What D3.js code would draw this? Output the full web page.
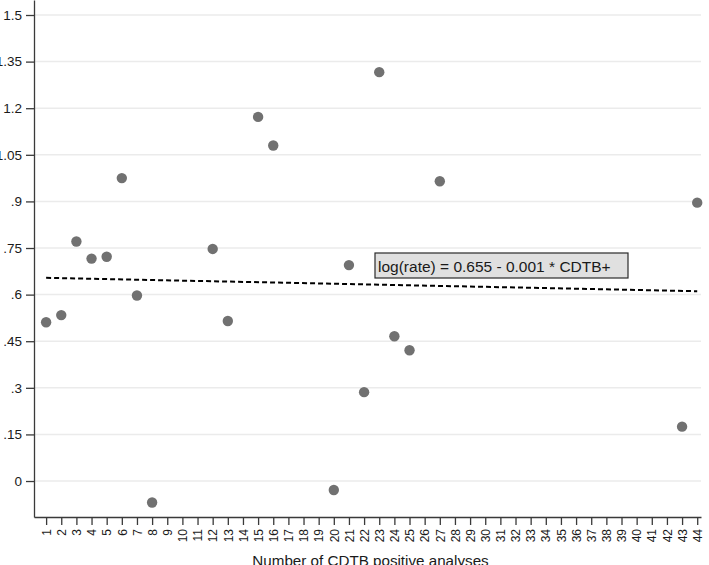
<!DOCTYPE html>
<html>
<head>
<meta charset="utf-8">
<title>log(rate) by CDTB+</title>
<style>
    body { margin: 0; background: #fff; }
    svg text { font-family: "Liberation Sans", Arial, sans-serif; fill: #1a1a1a; }
    .axis .domain { stroke: #3a3a3a; stroke-width: 1.3; }
    .axis .tick line { stroke: #3a3a3a; stroke-width: 1.3; }
</style>
</head>
<body>
<div id="chart"></div>
<script src="https://d3js.org/d3.v7.min.js"></script>
<script>
    // number of CDTB positive analyses (x) and observed log(rate) (y)
    var cdtb = [1, 2, 3, 4, 5, 6, 7, 8, 12, 13, 15, 16, 20, 21, 22, 23, 24, 25, 27, 43, 44];
    var logRate = [0.511, 0.534, 0.771, 0.716, 0.722, 0.975, 0.597, -0.069, 0.747, 0.515,
                   1.172, 1.080, -0.029, 0.695, 0.286, 1.316, 0.466, 0.421, 0.965, 0.175, 0.896];

    // fitted line
    var fitIntercept = 0.655;
    var fitSlope = -0.001;
    var fitLabel = 'log(rate) = 0.655 - 0.001 * CDTB+';

    var yTicks = [0, 0.15, 0.3, 0.45, 0.6, 0.75, 0.9, 1.05, 1.2, 1.35, 1.5];
    var yTickLabels = ['0', '.15', '.3', '.45', '.6', '.75', '.9', '1.05', '1.2', '1.35', '1.5'];
    var xTicks = d3.range(1, 45);
    var xTitle = 'Number of CDTB positive analyses';

    var width = 709;
    var height = 565;
    var plotLeft = 34, plotRight = 701, plotTop = 0, plotBottom = 517;

    var svg = d3.select('#chart')
        .append('svg')
        .attr('width', width)
        .attr('height', height);

    var x = d3.scaleLinear().domain([0.2, 44.25]).range([plotLeft, plotRight]);
    var y = d3.scaleLinear().domain([-0.1158, 1.5483]).range([plotBottom, plotTop]);

    // grid lines
    svg.append('g')
        .selectAll('line')
        .data(yTicks)
        .enter()
        .append('line')
        .attr('x1', plotLeft)
        .attr('x2', plotRight)
        .attr('y1', function(d) { return y(d); })
        .attr('y2', function(d) { return y(d); })
        .attr('stroke', '#ebebeb')
        .attr('stroke-width', 1.5);

    // y axis
    var yAxis = svg.append('g')
        .attr('class', 'axis')
        .attr('transform', 'translate(' + plotLeft + ',0)')
        .call(d3.axisLeft(y)
            .tickValues(yTicks)
            .tickFormat(function(d, i) { return yTickLabels[i]; })
            .tickSize(8)
            .tickSizeOuter(0)
            .tickPadding(4));
    yAxis.selectAll('text')
        .style('font-size', '13.5px');

    // x axis
    var xAxis = svg.append('g')
        .attr('class', 'axis')
        .attr('transform', 'translate(0,' + plotBottom + ')')
        .call(d3.axisBottom(x)
            .tickValues(xTicks)
            .tickFormat(d3.format('d'))
            .tickSize(8)
            .tickSizeOuter(0));
    xAxis.selectAll('text')
        .style('font-size', '12px')
        .attr('text-anchor', 'end')
        .attr('dy', '0.35em')
        .attr('y', 0)
        .attr('transform', 'translate(0,12) rotate(-90)');

    // x title
    svg.append('text')
        .attr('x', (plotLeft + plotRight) / 2 + 3)
        .attr('y', 566)
        .attr('text-anchor', 'middle')
        .style('font-size', '15.2px')
        .text(xTitle);

    // points
    svg.append('g')
        .selectAll('circle')
        .data(cdtb)
        .enter()
        .append('circle')
        .attr('cx', function(d) { return x(d); })
        .attr('cy', function(d, i) { return y(logRate[i]); })
        .attr('r', 5.2)
        .attr('fill', '#717171');

    // fitted line
    var xExt = d3.extent(cdtb);
    svg.append('line')
        .attr('x1', x(xExt[0]))
        .attr('x2', x(xExt[1]))
        .attr('y1', y(fitIntercept + fitSlope * xExt[0]))
        .attr('y2', y(fitIntercept + fitSlope * xExt[1]))
        .attr('stroke', '#000')
        .attr('stroke-width', 2)
        .attr('stroke-dasharray', '5,3');

    // annotation box
    var note = svg.append('g')
        .attr('transform', 'translate(375,253)');
    note.append('rect')
        .attr('width', 253)
        .attr('height', 25)
        .attr('fill', '#e0e0e0')
        .attr('stroke', '#2a2a2a')
        .attr('stroke-width', 1.2);
    note.append('text')
        .attr('x', 3)
        .attr('y', 19)
        .style('font-size', '15.5px')
        .text(fitLabel);
</script>
</body>
</html>
